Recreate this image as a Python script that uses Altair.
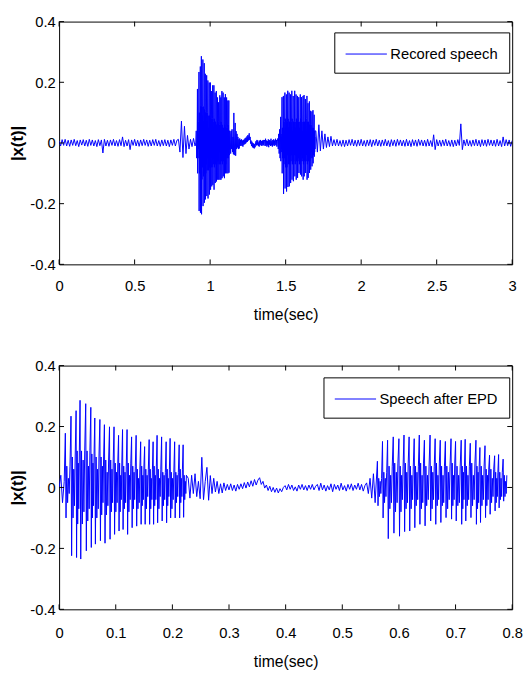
import altair as alt
import pandas as pd

# ---------------- data ----------------
# start (s) of the end-point-detected segment inside the full recording
EPD_START = 0.905

# --- "Speech after EPD" (bottom panel) ---
ONSET_START = 0.0
ONSET_STEP = 0.003
onset_values = [0.0, 0.04, -0.05, 0.02]

# first voiced part: pitch pulses (time of each tall spike, its height, the trough after it,
# and the level of the smaller oscillation between pulses)
v1_times = [0.011, 0.021, 0.030, 0.037, 0.047, 0.056, 0.063, 0.072, 0.080, 0.089,
            0.097, 0.105, 0.112, 0.120, 0.128, 0.136, 0.144, 0.151, 0.159, 0.166,
            0.173, 0.181, 0.189, 0.196, 0.204, 0.212, 0.219]
v1_peaks = [0.178, 0.234, 0.252, 0.286, 0.275, 0.263, 0.228, 0.223, 0.206, 0.199,
            0.199, 0.171, 0.190, 0.190, 0.166, 0.171, 0.150, 0.134, 0.157, 0.150,
            0.171, 0.166, 0.150, 0.161, 0.150, 0.140, 0.140]
v1_troughs = [-0.10, -0.224, -0.23, -0.235, -0.208, -0.197, -0.186, -0.175, -0.183, -0.170,
              -0.154, -0.143, -0.138, -0.154, -0.132, -0.127, -0.121, -0.121, -0.121, -0.121,
              -0.116, -0.11, -0.116, -0.10, -0.10, -0.10, -0.098]
v1_mid_hi = [0.07, 0.10, 0.12, 0.12, 0.12, 0.11, 0.10, 0.10, 0.09, 0.09,
             0.08, 0.08, 0.07, 0.08, 0.07, 0.06, 0.07, 0.06, 0.06, 0.07,
             0.06, 0.05, 0.06, 0.05, 0.05, 0.06, 0.04]
v1_mid_lo = [-0.05, -0.10, -0.12, -0.12, -0.11, -0.10, -0.10, -0.09, -0.09, -0.08,
             -0.08, -0.08, -0.07, -0.08, -0.07, -0.07, -0.06, -0.07, -0.07, -0.06,
             -0.07, -0.06, -0.06, -0.07, -0.05, -0.05, -0.04]
# second, smaller oscillation inside each pitch period
v1_mid_hi2 = [0.03, 0.06, 0.08, 0.09, 0.07, 0.08, 0.06, 0.07, 0.05, 0.06,
              0.05, 0.04, 0.05, 0.04, 0.05, 0.03, 0.04, 0.04, 0.03, 0.04,
              0.03, 0.04, 0.03, 0.03, 0.04, 0.03, 0.02]
v1_mid_lo2 = [-0.02, -0.06, -0.07, -0.08, -0.07, -0.06, -0.07, -0.05, -0.06, -0.05,
              -0.05, -0.04, -0.05, -0.04, -0.04, -0.05, -0.04, -0.03, -0.04, -0.04,
              -0.03, -0.04, -0.03, -0.04, -0.03, -0.03, -0.02]

# unvoiced / silent middle part
MID_START = 0.228
MID_STEP = 0.003
mid_values = [0.03, -0.035, 0.04, -0.02, 0.045, -0.03, 0.02, -0.037,
              0.099, -0.04, 0.02, 0.066, -0.042, 0.039, -0.02, 0.03, -0.015,
              0.02, -0.02, 0.012, -0.018, 0.015, -0.01,
              0.01, -0.008, 0.012, -0.01, 0.008, -0.012, 0.01, -0.006, 0.012, -0.004,
              0.016, -0.002, 0.018, 0.002, 0.022, 0.004, 0.026, 0.008, 0.024,
              0.032, 0.01, 0.02, -0.002,
              0.008, -0.01, 0.004, -0.014, 0.0, -0.016, -0.002, -0.018, -0.004, -0.014, 0.0,
              0.006, -0.008, 0.01, -0.006, 0.008, -0.01, 0.002, -0.012, 0.008, -0.006,
              0.01, -0.008, 0.006, -0.01, 0.008, -0.006, 0.01, -0.008, 0.004,
              0.01, -0.01, 0.014, -0.008, 0.008, -0.012, 0.006, -0.008, 0.012, -0.014,
              0.01, -0.006, 0.008, -0.01, 0.014, -0.008, 0.006, -0.012, 0.01, -0.006,
              0.012, -0.01, 0.008, -0.006, 0.014, -0.008, 0.01, -0.012, 0.006,
              0.015, -0.02, 0.03, -0.035, 0.045, -0.05]

# second voiced part
v2_times = [0.562, 0.571, 0.580, 0.590, 0.600, 0.609, 0.618, 0.627, 0.636, 0.645,
            0.655, 0.664, 0.673, 0.682, 0.692, 0.700, 0.710, 0.717, 0.726, 0.736,
            0.743, 0.752, 0.760, 0.769, 0.776, 0.784]
v2_peaks = [0.086, 0.151, 0.155, 0.166, 0.160, 0.172, 0.166, 0.160, 0.172, 0.155,
            0.172, 0.160, 0.155, 0.151, 0.160, 0.151, 0.155, 0.158, 0.145, 0.155,
            0.131, 0.137, 0.106, 0.104, 0.108, 0.093]
v2_troughs = [-0.06, -0.10, -0.168, -0.15, -0.16, -0.145, -0.143, -0.132, -0.121, -0.126,
              -0.11, -0.121, -0.115, -0.099, -0.104, -0.11, -0.121, -0.11, -0.099, -0.121,
              -0.115, -0.099, -0.088, -0.077, -0.067, -0.045]
v2_mid_hi = [0.03, 0.05, 0.07, 0.08, 0.07, 0.08, 0.07, 0.07, 0.08, 0.07,
             0.07, 0.08, 0.07, 0.07, 0.08, 0.07, 0.07, 0.07, 0.08, 0.07,
             0.07, 0.06, 0.06, 0.05, 0.05, 0.04]
v2_mid_lo = [-0.03, -0.05, -0.07, -0.08, -0.08, -0.07, -0.07, -0.06, -0.07, -0.06,
             -0.07, -0.06, -0.06, -0.07, -0.06, -0.06, -0.07, -0.06, -0.06, -0.07,
             -0.06, -0.06, -0.05, -0.05, -0.04, -0.03]
v2_mid_hi2 = [0.02, 0.03, 0.04, 0.05, 0.04, 0.05, 0.04, 0.05, 0.04, 0.04,
              0.05, 0.04, 0.04, 0.05, 0.04, 0.04, 0.05, 0.04, 0.04, 0.05,
              0.04, 0.04, 0.03, 0.03, 0.03, 0.02]
v2_mid_lo2 = [-0.02, -0.03, -0.05, -0.05, -0.04, -0.05, -0.04, -0.04, -0.05, -0.04,
              -0.04, -0.04, -0.05, -0.04, -0.04, -0.05, -0.04, -0.04, -0.04, -0.05,
              -0.04, -0.04, -0.03, -0.03, -0.03, -0.02]

# --- "Recored speech" (top panel): background noise before and after the segment ---
NOISE_STEP = 0.01
PRE_START = 0.0
pre_values = [0.006, -0.01, 0.011, -0.008, 0.012, -0.01, 0.009, -0.011, 0.01, -0.008,
              0.012, -0.009, 0.008, -0.012, 0.01, -0.007, 0.011, -0.01, 0.009, -0.011,
              0.012, -0.008, 0.01, -0.01, 0.008, -0.012, 0.011, -0.009, 0.01, -0.033,
              0.012, -0.01, 0.009, -0.011, 0.01, -0.008, 0.012, -0.01, 0.008, -0.011,
              0.011, -0.009, 0.02, -0.012, 0.009, -0.01, 0.011, -0.022, 0.01, -0.008,
              0.012, -0.01, 0.009, -0.011, 0.01, -0.009, 0.012, -0.008, 0.01, -0.011,
              0.009, -0.01, 0.011, -0.008, 0.012, -0.01, 0.008, -0.011, 0.01, -0.009,
              0.011, -0.01, 0.009, -0.012, 0.01, -0.008, 0.012, -0.01, 0.009, 0.012,
              -0.03, 0.072, -0.048, 0.055, -0.035, 0.025, -0.02, 0.012, -0.012, 0.015, -0.01]
POST_START = 1.70
post_values = [0.04, -0.03, 0.06, -0.026, 0.04, -0.02, 0.03, -0.015, 0.02, -0.012, 0.022,
               -0.01, 0.011, -0.009, 0.012, -0.01, 0.008, -0.011, 0.01, -0.012, 0.009,
               -0.01, 0.011, -0.008, 0.012, -0.01, 0.009, -0.011, 0.01, -0.009, 0.012,
               -0.01, 0.008, -0.011, 0.01, -0.009, 0.011, -0.012, 0.01, -0.008, 0.012,
               -0.01, 0.009, -0.011, 0.01, -0.009, 0.012, -0.01, 0.008, -0.012, 0.011,
               -0.009, 0.01, -0.011, 0.012, -0.008, 0.01, -0.01, 0.009, -0.011, 0.012,
               -0.01, 0.008, -0.012, 0.011, -0.009, 0.01, -0.011, 0.012, -0.008, 0.01,
               -0.01, 0.009, -0.011, 0.012, -0.01, 0.008, -0.012, 0.027, -0.022, 0.011,
               -0.01, 0.009, -0.011, 0.01, -0.009, 0.012, -0.01, 0.008, -0.011, 0.01,
               -0.012, 0.009, -0.01, 0.011, -0.008, 0.063, -0.022, 0.01, -0.009, 0.012,
               -0.01, 0.008, -0.011, 0.01, -0.009, 0.012, -0.01, 0.009, -0.012, 0.011,
               -0.009, 0.01, -0.011, 0.012, -0.008, 0.01, -0.01, 0.009, -0.011, 0.012,
               -0.01, 0.008, -0.012, 0.02, -0.01, 0.011, -0.009, 0.01, -0.011, 0.008]

# axis ticks
top_x_ticks = [0, 0.5, 1, 1.5, 2, 2.5, 3]
bot_x_ticks = [0, 0.1, 0.2, 0.3, 0.4, 0.5, 0.6, 0.7, 0.8]
y_ticks = [-0.4, -0.2, 0, 0.2, 0.4]

# ---------------- build tables ----------------
PULSE_PHASES = [0.0, 0.12, 0.26, 0.40, 0.54, 0.68, 0.82]


def pulse_rows(times, peaks, troughs, hi, lo, hi2, lo2):
    rows = []
    for k, t0 in enumerate(times):
        period = (times[k + 1] - t0) if k + 1 < len(times) else (t0 - times[k - 1])
        vals = [peaks[k], troughs[k], hi[k], lo[k], hi2[k], lo2[k], hi[k]]
        for frac, v in zip(PULSE_PHASES, vals):
            rows.append((t0 + frac * period, v))
    return rows


epd_rows = [(ONSET_START + i * ONSET_STEP, v) for i, v in enumerate(onset_values)]
epd_rows += pulse_rows(v1_times, v1_peaks, v1_troughs, v1_mid_hi, v1_mid_lo,
                       v1_mid_hi2, v1_mid_lo2)
epd_rows += [(MID_START + i * MID_STEP, v) for i, v in enumerate(mid_values)]
epd_rows += pulse_rows(v2_times, v2_peaks, v2_troughs, v2_mid_hi, v2_mid_lo,
                       v2_mid_hi2, v2_mid_lo2)

rec_rows = [(PRE_START + i * NOISE_STEP, v) for i, v in enumerate(pre_values)]
rec_rows += [(EPD_START + t, v) for t, v in epd_rows]
rec_rows += [(POST_START + i * NOISE_STEP, v) for i, v in enumerate(post_values)]


def to_df(rows, name):
    return pd.DataFrame({"i": list(range(len(rows))),
                         "t": [r[0] for r in rows],
                         "v": [r[1] for r in rows],
                         "series": name})


rec_df = to_df(rec_rows, "Recored speech")
epd_df = to_df(epd_rows, "Speech after EPD")

# ---------------- styling ----------------
FONT = "Liberation Sans, Arial, sans-serif"
BLUE = "#0000ff"
W = 461
TICK = 5
LABEL_EXPR = "(datum.value < 0 ? '-' : '') + format(abs(datum.value), '~g')"


def panel(df, name, x_dom, x_ticks, H, lx, ly, x_label_pad, x_title_pad):
    xs = alt.Scale(domain=x_dom, nice=False, zero=False)
    ys = alt.Scale(domain=[-0.4, 0.4], nice=False, zero=False)
    x_axis = alt.Axis(values=x_ticks, title="time(sec)", labelExpr=LABEL_EXPR,
                      ticks=False, domain=False, grid=False, labelFlush=False,
                      labelOverlap=False, labelPadding=x_label_pad, labelFont=FONT,
                      labelFontSize=15, labelColor="black", titleFont=FONT,
                      titleFontSize=16, titleFontWeight="normal", titleColor="black",
                      titlePadding=x_title_pad)
    y_axis = alt.Axis(values=y_ticks, title="|x(t)|", labelExpr=LABEL_EXPR,
                      ticks=False, domain=False, grid=False, labelFlush=False,
                      labelOverlap=False, labelPadding=4, labelFont=FONT,
                      labelFontSize=15, labelColor="black", titleFont=FONT,
                      titleFontSize=17, titleFontWeight="bold", titleColor="black",
                      titlePadding=3)
    legend = alt.Legend(title=None, orient="none", legendX=lx, legendY=ly,
                        strokeColor="black", fillColor="white", padding=11,
                        cornerRadius=0, symbolType="M-1,0H3", symbolSize=441,
                        symbolStrokeWidth=1, labelOffset=24, labelFont=FONT,
                        labelFontSize=15, labelColor="black", labelLimit=0)
    line = alt.Chart(df).mark_line(strokeWidth=1, clip=True).encode(
        x=alt.X("t:Q", scale=xs, axis=x_axis),
        y=alt.Y("v:Q", scale=ys, axis=y_axis),
        color=alt.Color("series:N", scale=alt.Scale(domain=[name], range=[BLUE]),
                        legend=legend),
        order=alt.Order("i:Q"),
    )
    xt = pd.DataFrame({"t": x_ticks})
    yt = pd.DataFrame({"v": y_ticks})
    style = dict(color="black", strokeWidth=1)
    bottom_ticks = alt.Chart(xt).mark_rule(**style).encode(
        x=alt.X("t:Q", scale=xs, axis=x_axis), y=alt.value(H), y2=alt.value(H - TICK))
    top_ticks = alt.Chart(xt).mark_rule(**style).encode(
        x=alt.X("t:Q", scale=xs, axis=x_axis), y=alt.value(0), y2=alt.value(TICK))
    left_ticks = alt.Chart(yt).mark_rule(**style).encode(
        y=alt.Y("v:Q", scale=ys, axis=y_axis), x=alt.value(0), x2=alt.value(TICK))
    right_ticks = alt.Chart(yt).mark_rule(**style).encode(
        y=alt.Y("v:Q", scale=ys, axis=y_axis), x=alt.value(W), x2=alt.value(W - TICK))
    return alt.layer(line, bottom_ticks, top_ticks, left_ticks, right_ticks).properties(
        width=W, height=H)


top = panel(rec_df, "Recored speech", [0, 3], top_x_ticks, 247, 280, 11, 15, 13)
bottom = panel(epd_df, "Speech after EPD", [0, 0.8], bot_x_ticks, 248, 269, 12, 17, 13)

chart = alt.vconcat(top, bottom, spacing=35).resolve_scale(
    color="independent", x="independent", y="independent"
).properties(
    padding={"left": 0, "top": 0, "right": 0, "bottom": 0}, background="white"
).configure_view(
    stroke="black", strokeWidth=1
)

chart.save("out.html", embed_options={"renderer": "svg", "actions": False})
